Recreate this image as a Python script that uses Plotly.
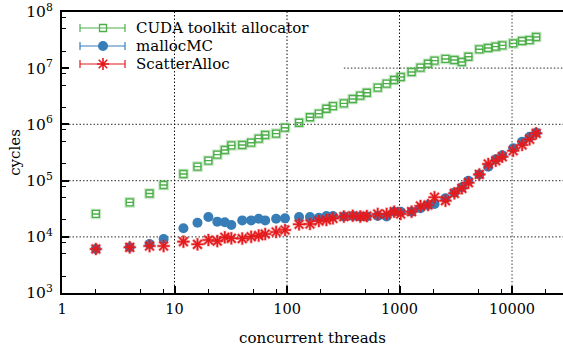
import plotly.graph_objects as go

# Concurrent thread counts (shared by all three allocators)
threads = [2, 4, 6, 8, 12, 16, 20, 24, 28, 32, 40, 48, 56, 64, 80, 96, 128, 160, 192, 224,
           256, 320, 384, 448, 512, 640, 768, 896, 1024, 1280, 1536, 1792, 2048, 2560,
           3072, 3584, 4096, 5120, 6144, 7168, 8192, 10240, 12288, 14336, 16384]

# Cycles per allocation
cuda_cycles = [25.5e3, 41e3, 59e3, 83.5e3, 131e3, 177e3, 226e3, 289e3, 350e3, 424e3,
               430e3, 472e3, 557e3, 648e3, 684e3, 873e3, 1.07e6, 1.34e6, 1.55e6, 1.90e6,
               2.12e6, 2.37e6, 2.83e6, 3.24e6, 3.66e6, 4.5e6, 5.3e6, 6.17e6, 6.97e6,
               8.55e6, 10.2e6, 12.0e6, 13.6e6, 14.6e6, 14.0e6, 12.9e6, 16.0e6, 21.7e6,
               22.9e6, 24.2e6, 25.5e6, 27.7e6, 30.5e6, 31.7e6, 35.9e6]

mallocmc_cycles = [6.07e3, 6.5e3, 7.45e3, 9.14e3, 14.2e3, 17.8e3, 22.5e3, 18.6e3, 18.1e3,
                   16.2e3, 19.6e3, 19.6e3, 21.0e3, 19.6e3, 21.0e3, 21.3e3, 22.5e3, 22.5e3,
                   21.9e3, 23.4e3, 23.4e3, 22.9e3, 23.4e3, 22.9e3, 22.9e3, 23.4e3, 22.9e3,
                   28.0e3, 28.0e3, 28.0e3, 32.1e3, 36.8e3, 38.4e3, 48.4e3, 61e3, 76e3,
                   99.6e3, 129e3, 177e3, 239e3, 282e3, 376e3, 493e3, 604e3, 711e3]

scatteralloc_cycles = [6.07e3, 6.5e3, 6.85e3, 6.85e3, 8.19e3, 7.35e3, 8.77e3, 8.4e3, 9.8e3,
                       9.4e3, 9.3e3, 10.0e3, 10.5e3, 11.2e3, 12.2e3, 13.2e3, 16.7e3, 16.9e3,
                       19.1e3, 19.9e3, 21.3e3, 22.9e3, 23.7e3, 22.9e3, 23.4e3, 25.5e3, 25.5e3,
                       28.0e3, 25.5e3, 28.0e3, 35.3e3, 36.8e3, 50.5e3, 44e3, 59.4e3, 72.9e3,
                       91.8e3, 129e3, 197e3, 226e3, 266e3, 340e3, 430e3, 543e3, 694e3]

series_names = ["CUDA toolkit allocator", "mallocMC", "ScatterAlloc"]

x_tick_vals = [1, 10, 100, 1000, 10000]
x_tick_text = ["1", "10", "100", "1000", "10000"]
y_tick_vals = [1e3, 1e4, 1e5, 1e6, 1e7, 1e8]
y_tick_text = ["10<sup>3</sup>", "10<sup>4</sup>", "10<sup>5</sup>",
               "10<sup>6</sup>", "10<sup>7</sup>", "10<sup>8</sup>"]

GREEN = "#4daf4a"
BLUE = "#377eb8"
RED = "#e41a1c"
FONT = "DejaVu Serif"

# Figure geometry (pixels) used for placing the key
W, H = 563, 352
ML, MR, MT, MB = 62, 0, 12, 59
PW, PH = W - ML - MR, H - MT - MB


def px_to_paper(px, py):
    return (px - ML) / PW, (H - MB - py) / PH


fig = go.Figure()

# CUDA toolkit allocator: open squares with flat error caps and a soft halo
fig.add_trace(go.Scatter(
    x=threads, y=cuda_cycles, mode="markers", showlegend=False, hoverinfo="skip",
    marker=dict(symbol="square-open", size=8, color="rgba(77,175,74,0.3)",
                line=dict(width=2.6, color="rgba(77,175,74,0.3)")),
))
fig.add_trace(go.Scatter(
    x=threads, y=cuda_cycles, mode="markers", showlegend=False,
    marker=dict(symbol="square-open", size=7, color=GREEN, line=dict(width=1.3, color=GREEN)),
    error_y=dict(type="percent", value=0.3, width=4, thickness=1.2, color=GREEN),
))
# mallocMC: filled circles
fig.add_trace(go.Scatter(
    x=threads, y=mallocmc_cycles, mode="markers", showlegend=False,
    marker=dict(symbol="circle", size=10, color=BLUE, line=dict(width=0)),
))
# ScatterAlloc: asterisks with a soft halo
fig.add_trace(go.Scatter(
    x=threads, y=scatteralloc_cycles, mode="markers", showlegend=False, hoverinfo="skip",
    marker=dict(symbol="asterisk-open", size=11, color="rgba(228,26,28,0.35)",
                line=dict(width=3, color="rgba(228,26,28,0.35)")),
))
fig.add_trace(go.Scatter(
    x=threads, y=scatteralloc_cycles, mode="markers", showlegend=False,
    marker=dict(symbol="asterisk-open", size=10, color=RED, line=dict(width=1.6, color=RED)),
))

# Dotted grid
GRID_DASH = "1.5px,2px"
shapes = []
for xv in [10, 100, 1000]:
    shapes.append(dict(type="line", xref="x", yref="y", x0=xv, x1=xv, y0=1e3, y1=1e8,
                       line=dict(color="#111111", width=1, dash=GRID_DASH), layer="below"))
shapes.append(dict(type="line", xref="x", yref="y", x0=10000, x1=10000, y0=1e3, y1=1e8,
                   line=dict(color="#888888", width=1.6, dash=GRID_DASH), layer="below"))
for yv in [1e4, 1e5, 1e6]:
    shapes.append(dict(type="line", xref="paper", yref="y", x0=0, x1=1, y0=yv, y1=yv,
                       line=dict(color="#555555", width=1.2, dash=GRID_DASH), layer="below"))
shapes.append(dict(type="line", xref="x", yref="y", x0=320, x1=10 ** 4.5, y0=1e7, y1=1e7,
                   line=dict(color="#555555", width=1.2, dash=GRID_DASH), layer="below"))

# Key: line with end caps, marker in the middle, label to the right
key_rows_py = [28, 46, 64]
key_x0, key_x1, key_mid, key_text = 80, 125, 103, 134
key_colors = [GREEN, BLUE, RED]
key_markers = [
    dict(symbol="square-open", size=7, color=GREEN, line=dict(width=1.3, color=GREEN)),
    dict(symbol="circle", size=10, color=BLUE),
    dict(symbol="asterisk-open", size=10, color=RED, line=dict(width=1.6, color=RED)),
]
annotations = []
for py, col, mk, name in zip(key_rows_py, key_colors, key_markers, series_names):
    xa, ya = px_to_paper(key_x0, py)
    xb, _ = px_to_paper(key_x1, py)
    _, yt = px_to_paper(key_x0, py - 4)
    _, yb = px_to_paper(key_x0, py + 4)
    shapes.append(dict(type="line", xref="paper", yref="paper", x0=xa, x1=xb, y0=ya, y1=ya,
                       line=dict(color=col, width=1.2)))
    for xc in (xa, xb):
        shapes.append(dict(type="line", xref="paper", yref="paper", x0=xc, x1=xc, y0=yb, y1=yt,
                           line=dict(color=col, width=1.2)))
    xm, ym = px_to_paper(key_mid, py)
    fig.add_trace(go.Scatter(x=[xm], y=[ym], xaxis="x2", yaxis="y2", mode="markers",
                             marker=mk, showlegend=False, hoverinfo="skip", cliponaxis=False))
    xtx, _ = px_to_paper(key_text, py)
    annotations.append(dict(xref="paper", yref="paper", x=xtx, y=ya, text=name,
                            showarrow=False, xanchor="left", yanchor="middle",
                            font=dict(family=FONT, size=15, color="black")))

minor_x = [m * 10 ** e for e in range(0, 5) for m in (2, 5, 8)]
minor_y = [m * 10 ** e for e in range(3, 8) for m in (2, 5, 8)]

fig.update_layout(
    width=W, height=H,
    margin=dict(l=ML, r=MR, t=MT, b=MB),
    paper_bgcolor="white", plot_bgcolor="white",
    font=dict(family=FONT, size=14, color="black"),
    shapes=shapes,
    annotations=annotations,
    showlegend=False,
    xaxis=dict(
        type="log", range=[0, 4.453],
        tickvals=x_tick_vals, ticktext=x_tick_text,
        ticks="inside", ticklen=7, tickwidth=1.5, tickcolor="black",
        minor=dict(tickvals=minor_x, ticks="inside", ticklen=4, tickwidth=1, tickcolor="black",
                   showgrid=False),
        showline=True, linecolor="black", linewidth=2, mirror=True,
        showgrid=False, zeroline=False,
        tickfont=dict(size=14.5),
        ticklabelstandoff=2,
        title=dict(text="concurrent threads", standoff=16, font=dict(size=15)),
    ),
    yaxis=dict(
        type="log", range=[3, 8],
        tickvals=y_tick_vals, ticktext=y_tick_text,
        ticks="inside", ticklen=7, tickwidth=1.5, tickcolor="black",
        minor=dict(tickvals=minor_y, ticks="inside", ticklen=4, tickwidth=1, tickcolor="black",
                   showgrid=False),
        showline=True, linecolor="black", linewidth=2, mirror=False,
        showgrid=False, zeroline=False,
        tickfont=dict(size=15.5),
        ticklabelstandoff=4,
        title=dict(text="cycles", standoff=2, font=dict(size=15)),
    ),
    xaxis2=dict(overlaying="x", range=[0, 1], visible=False, fixedrange=True),
    yaxis2=dict(overlaying="y", range=[0, 1], visible=False, fixedrange=True),
)

fig.write_html("out.html")
